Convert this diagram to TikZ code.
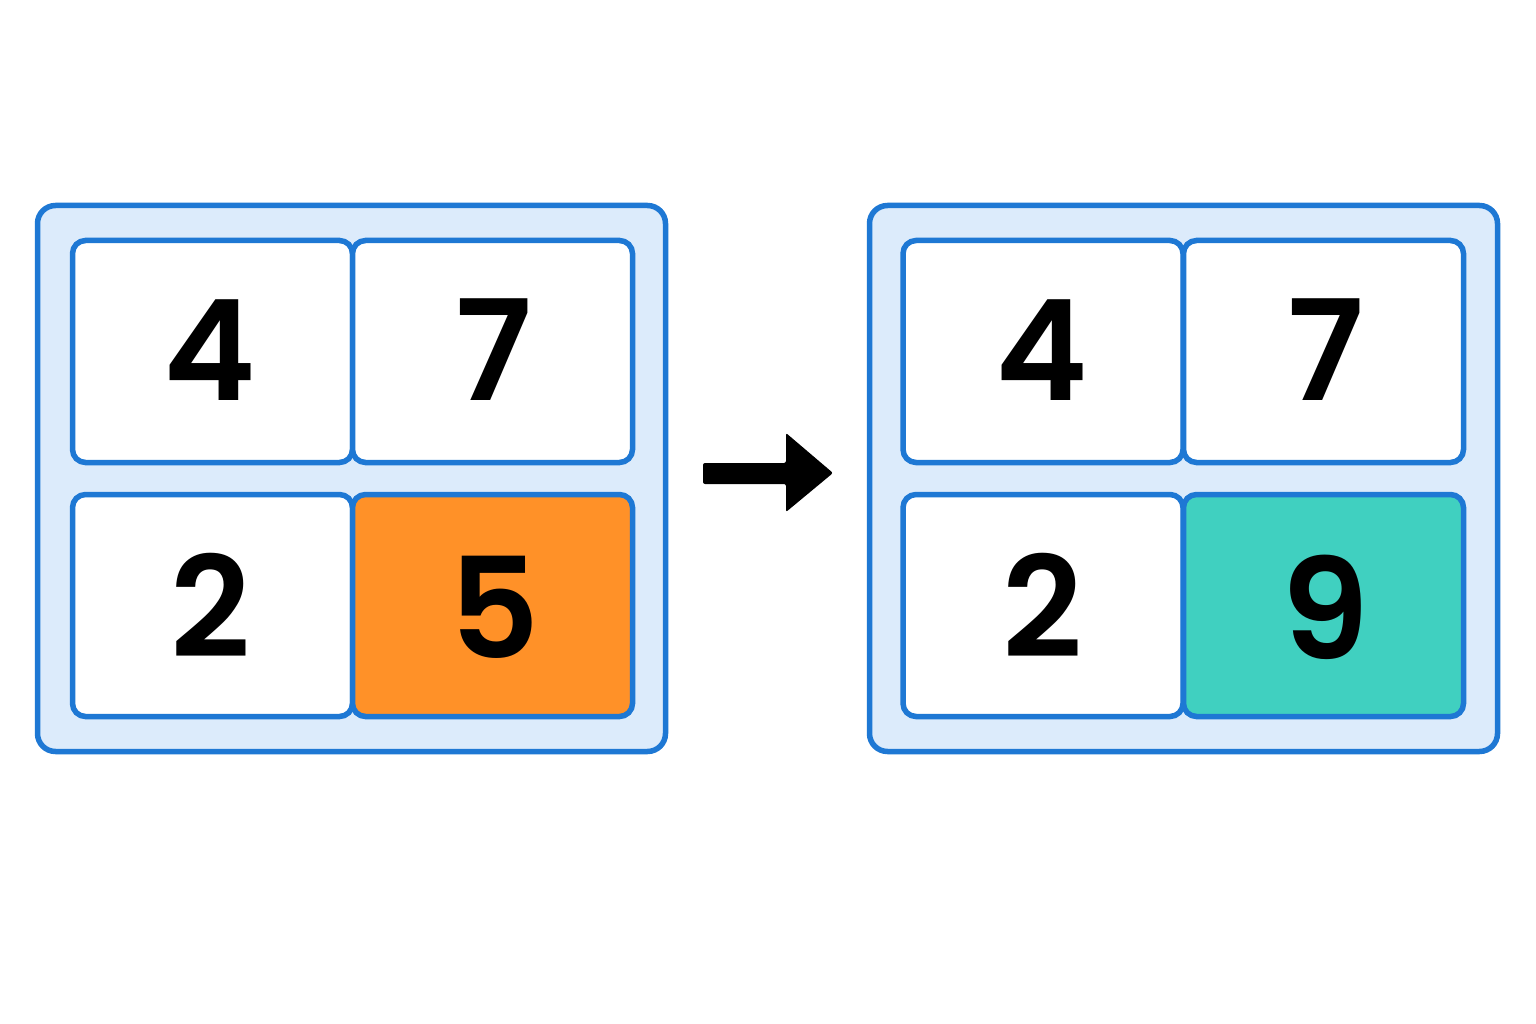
\documentclass[tikz,border=0pt]{standalone}
\usepackage{fontspec}
\setmainfont{Poppins}[BoldFont={* SemiBold}]
\definecolor{frameblue}{HTML}{1E78D4}
\definecolor{lightblue}{HTML}{DCEBFB}
\definecolor{cellorange}{HTML}{FF9128}
\definecolor{cellteal}{HTML}{40D0C0}
\tikzset{
  outerframe/.style={draw=frameblue, fill=lightblue, line width=5.5pt, rounded corners=18pt,
    minimum width=628pt, minimum height=546pt, inner sep=0pt},
  cellbox/.style={draw=frameblue, fill=white, line width=5.5pt, rounded corners=13pt,
    minimum width=280pt, minimum height=222pt, inner sep=0pt},
  digit/.style={font=\fontsize{140}{140}\selectfont\bfseries, inner sep=0pt, text=black},
}
\begin{document}
\begin{tikzpicture}[x=1pt,y=-1pt]
\useasboundingbox[fill=white] (0,0) rectangle (1536,1024);
% left grid
\node[outerframe] (L) at (351.5,478.5) {};
\node[cellbox] (L11) at (212.5,351.5) {};
\node[cellbox] (L12) at (492.5,351.5) {};
\node[cellbox] (L21) at (212.5,605.5) {};
\node[cellbox, fill=cellorange] (L22) at (492.5,605.5) {};
\node[digit] (tL11) at (210,350) {4};
\node[digit] (tL12) at (494,350) {7};
\node[digit] (tL21) at (211,605) {2};
\node[digit] (tL22) at (495,607) {5};
% right grid
\node[outerframe] (R) at (1183.5,478.5) {};
\node[cellbox] (R11) at (1043,351.5) {};
\node[cellbox] (R12) at (1323.5,351.5) {};
\node[cellbox] (R21) at (1043,605.5) {};
\node[cellbox, fill=cellteal] (R22) at (1323.5,605.5) {};
\node[digit] (tR11) at (1042,350) {4};
\node[digit] (tR12) at (1326,350) {7};
\node[digit] (tR21) at (1043,605) {2};
\node[digit] (tR22) at (1325,607) {9};
% arrow
\fill[black, rounded corners=2pt] (703,463) -- (786,463) -- (786,433) -- (833,473)
  -- (786,512) -- (786,484) -- (703,484) -- cycle;
\end{tikzpicture}
\end{document}
